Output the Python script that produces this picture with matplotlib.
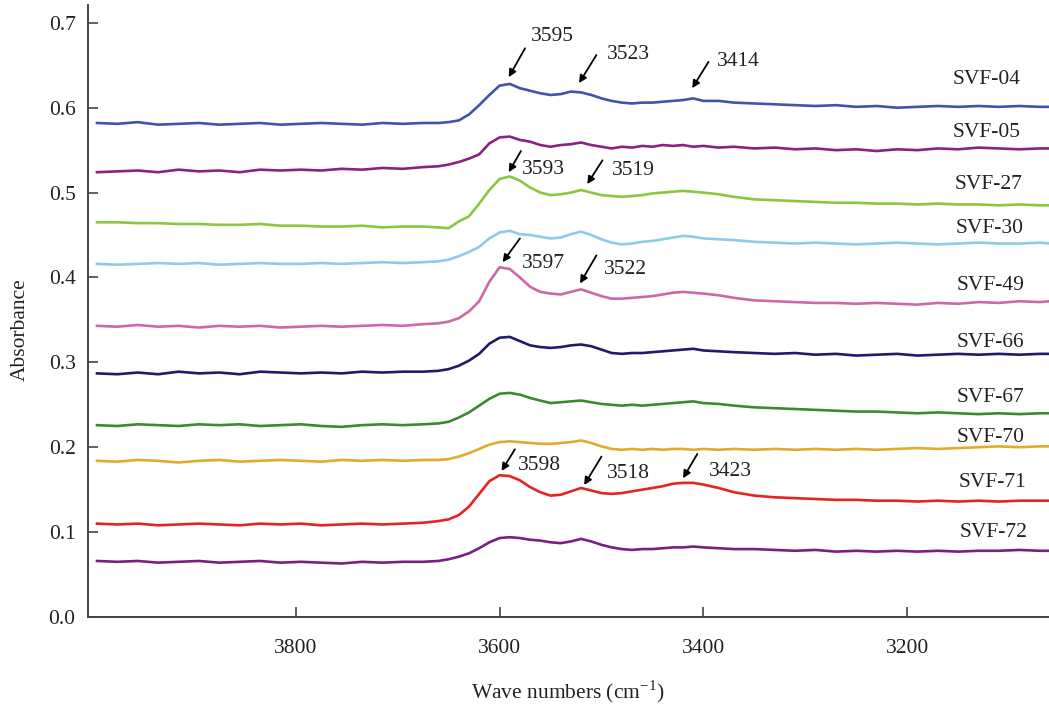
import matplotlib
matplotlib.use("Agg")
import matplotlib.pyplot as plt

# ---------------- data ----------------
wavenumber = [3995, 3975, 3955, 3935, 3915, 3895, 3875, 3855, 3835, 3815, 3795, 3775, 3755, 3735, 3715, 3695, 3675,
              3660, 3650, 3640, 3630, 3620, 3610, 3600, 3590, 3580, 3570, 3560, 3550, 3540, 3530, 3520, 3510, 3500,
              3490, 3480, 3470, 3460, 3450, 3440, 3430, 3420, 3410, 3400,
              3385, 3370,
              3350, 3330, 3310, 3290, 3270, 3250, 3230, 3210, 3190, 3170, 3150, 3130, 3110, 3090, 3070, 3060]

svf04 = [0.582, 0.581, 0.583, 0.580, 0.581, 0.582, 0.580, 0.581, 0.582, 0.580, 0.581, 0.582, 0.581, 0.580, 0.582, 0.581, 0.582,
         0.582, 0.583, 0.585, 0.592, 0.603, 0.615, 0.626, 0.628, 0.623, 0.620, 0.617, 0.615, 0.616, 0.619, 0.618, 0.615, 0.611,
         0.608, 0.606, 0.605, 0.606, 0.606, 0.607, 0.608, 0.609, 0.611, 0.608,
         0.608, 0.606,
         0.605, 0.604, 0.603, 0.602, 0.603, 0.601, 0.602, 0.600, 0.601, 0.602, 0.601, 0.602, 0.601, 0.602, 0.601, 0.601]

svf05 = [0.524, 0.525, 0.526, 0.524, 0.527, 0.525, 0.526, 0.524, 0.527, 0.526, 0.527, 0.526, 0.528, 0.527, 0.529, 0.528, 0.530,
         0.531, 0.533, 0.536, 0.540, 0.545, 0.558, 0.565, 0.566, 0.562, 0.560, 0.556, 0.554, 0.556, 0.557, 0.559, 0.556, 0.554,
         0.552, 0.554, 0.553, 0.555, 0.554, 0.556, 0.555, 0.556, 0.554, 0.555,
         0.553, 0.554,
         0.552, 0.553, 0.551, 0.552, 0.550, 0.551, 0.549, 0.551, 0.550, 0.552, 0.551, 0.553, 0.552, 0.551, 0.552, 0.552]

svf27 = [0.465, 0.465, 0.464, 0.464, 0.463, 0.463, 0.462, 0.462, 0.463, 0.461, 0.461, 0.460, 0.460, 0.461, 0.459, 0.460, 0.460,
         0.459, 0.458, 0.466, 0.472, 0.487, 0.503, 0.516, 0.519, 0.514, 0.506, 0.500, 0.497, 0.498, 0.500, 0.503, 0.500, 0.497,
         0.496, 0.495, 0.496, 0.497, 0.499, 0.500, 0.501, 0.502, 0.501, 0.500,
         0.498, 0.495,
         0.492, 0.491, 0.490, 0.489, 0.488, 0.488, 0.487, 0.487, 0.486, 0.487, 0.486, 0.486, 0.485, 0.486, 0.485, 0.485]

svf30 = [0.416, 0.415, 0.416, 0.417, 0.416, 0.417, 0.415, 0.416, 0.417, 0.416, 0.416, 0.417, 0.416, 0.417, 0.418, 0.417, 0.418,
         0.419, 0.421, 0.425, 0.430, 0.436, 0.446, 0.453, 0.455, 0.451, 0.450, 0.448, 0.446, 0.447, 0.451, 0.454, 0.450, 0.445,
         0.441, 0.439, 0.440, 0.442, 0.443, 0.445, 0.447, 0.449, 0.448, 0.446,
         0.445, 0.444,
         0.442, 0.441, 0.440, 0.441, 0.440, 0.439, 0.440, 0.441, 0.440, 0.439, 0.440, 0.441, 0.440, 0.440, 0.441, 0.440]

svf49 = [0.343, 0.342, 0.344, 0.342, 0.343, 0.341, 0.343, 0.342, 0.343, 0.341, 0.342, 0.343, 0.342, 0.343, 0.344, 0.343, 0.345,
         0.346, 0.348, 0.352, 0.360, 0.372, 0.395, 0.412, 0.410, 0.400, 0.389, 0.383, 0.381, 0.380, 0.383, 0.386, 0.382, 0.378,
         0.375, 0.375, 0.376, 0.377, 0.378, 0.380, 0.382, 0.383, 0.382, 0.381,
         0.379, 0.376,
         0.373, 0.372, 0.371, 0.370, 0.370, 0.369, 0.370, 0.369, 0.368, 0.370, 0.369, 0.371, 0.370, 0.372, 0.371, 0.372]

svf66 = [0.287, 0.286, 0.288, 0.286, 0.289, 0.287, 0.288, 0.286, 0.289, 0.288, 0.287, 0.288, 0.287, 0.289, 0.288, 0.289, 0.289,
         0.290, 0.292, 0.296, 0.302, 0.310, 0.322, 0.329, 0.330, 0.325, 0.320, 0.318, 0.317, 0.318, 0.320, 0.321, 0.319, 0.315,
         0.311, 0.310, 0.311, 0.311, 0.312, 0.313, 0.314, 0.315, 0.316, 0.314,
         0.313, 0.312,
         0.311, 0.310, 0.311, 0.309, 0.310, 0.308, 0.309, 0.310, 0.308, 0.309, 0.310, 0.309, 0.310, 0.309, 0.310, 0.310]

svf67 = [0.226, 0.225, 0.227, 0.226, 0.225, 0.227, 0.226, 0.227, 0.225, 0.226, 0.227, 0.225, 0.224, 0.226, 0.227, 0.226, 0.227,
         0.228, 0.230, 0.235, 0.241, 0.249, 0.257, 0.263, 0.264, 0.262, 0.258, 0.255, 0.252, 0.253, 0.254, 0.255, 0.253, 0.251,
         0.250, 0.249, 0.250, 0.249, 0.250, 0.251, 0.252, 0.253, 0.254, 0.252,
         0.251, 0.249,
         0.247, 0.246, 0.245, 0.244, 0.243, 0.242, 0.242, 0.241, 0.240, 0.241, 0.240, 0.239, 0.240, 0.239, 0.240, 0.240]

svf70 = [0.184, 0.183, 0.185, 0.184, 0.182, 0.184, 0.185, 0.183, 0.184, 0.185, 0.184, 0.183, 0.185, 0.184, 0.185, 0.184, 0.185,
         0.185, 0.186, 0.189, 0.193, 0.198, 0.203, 0.206, 0.207, 0.206, 0.205, 0.204, 0.204, 0.205, 0.206, 0.208, 0.205, 0.201,
         0.198, 0.197, 0.198, 0.197, 0.198, 0.197, 0.198, 0.198, 0.197, 0.198,
         0.197, 0.198,
         0.197, 0.198, 0.197, 0.198, 0.197, 0.198, 0.197, 0.198, 0.199, 0.198, 0.199, 0.200, 0.201, 0.200, 0.201, 0.201]

svf71 = [0.110, 0.109, 0.110, 0.108, 0.109, 0.110, 0.109, 0.108, 0.110, 0.109, 0.110, 0.108, 0.109, 0.110, 0.109, 0.110, 0.111,
         0.113, 0.115, 0.120, 0.130, 0.145, 0.160, 0.167, 0.166, 0.161, 0.153, 0.147, 0.143, 0.144, 0.148, 0.152, 0.149, 0.146,
         0.145, 0.146, 0.148, 0.150, 0.152, 0.154, 0.157, 0.158, 0.158, 0.156,
         0.152, 0.147,
         0.143, 0.141, 0.140, 0.139, 0.138, 0.138, 0.137, 0.137, 0.136, 0.137, 0.136, 0.137, 0.136, 0.137, 0.137, 0.137]

svf72 = [0.066, 0.065, 0.066, 0.064, 0.065, 0.066, 0.064, 0.065, 0.066, 0.064, 0.065, 0.064, 0.063, 0.065, 0.064, 0.065, 0.065,
         0.066, 0.068, 0.071, 0.075, 0.081, 0.088, 0.093, 0.094, 0.093, 0.091, 0.090, 0.088, 0.087, 0.089, 0.092, 0.089, 0.085,
         0.082, 0.080, 0.079, 0.080, 0.080, 0.081, 0.082, 0.082, 0.083, 0.082,
         0.081, 0.080,
         0.080, 0.079, 0.078, 0.079, 0.077, 0.078, 0.077, 0.078, 0.077, 0.078, 0.077, 0.078, 0.078, 0.079, 0.078, 0.078]

sample_names = ["SVF-04", "SVF-05", "SVF-27", "SVF-30", "SVF-49",
                "SVF-66", "SVF-67", "SVF-70", "SVF-71", "SVF-72"]
series = [svf04, svf05, svf27, svf30, svf49, svf66, svf67, svf70, svf71, svf72]

x_ticks = [3800, 3600, 3400, 3200]
y_ticks = [0.0, 0.1, 0.2, 0.3, 0.4, 0.5, 0.6, 0.7]

# peak annotation labels
peak_labels = ["3595", "3523", "3414", "3593", "3519", "3597", "3522", "3598", "3518", "3423"]

# ---------------- style / layout ----------------
colors = ["#4254a8", "#8a2282", "#8cc63f", "#8ecbe8", "#cc68a8",
          "#1f1b6e", "#3c8a30", "#e2ab2c", "#e42422", "#7a1f82"]
# label positions (x, y) in data coords
label_pos = [(3122, 0.633), (3122, 0.571), (3120, 0.509), (3119, 0.458), (3118, 0.391),
             (3118, 0.323), (3118, 0.259), (3118, 0.212), (3116, 0.159), (3115, 0.100)]
# annotation geometry: (text_x, text_y, tail_x, tail_y, head_x, head_y)
ann_geom = [
    (3569, 0.684, 3575, 0.670, 3591, 0.636),
    (3495, 0.663, 3505, 0.662, 3522, 0.629),
    (3387, 0.655, 3395, 0.654, 3411, 0.623),
    (3578, 0.527, 3579, 0.549, 3591, 0.524),
    (3490, 0.526, 3499, 0.538, 3514, 0.510),
    (3578, 0.417, 3580, 0.446, 3597, 0.418),
    (3498, 0.409, 3505, 0.426, 3521, 0.393),
    (3582, 0.178, 3585, 0.1975, 3598, 0.172),
    (3495, 0.169, 3500, 0.189, 3517, 0.1555),
    (3395, 0.171, 3406, 0.192, 3420, 0.1635),
]

plt.rcParams["font.family"] = ["Liberation Serif", "DejaVu Serif"]
fs = 15.5

fig = plt.figure(figsize=(10.49, 7.04), dpi=100)
ax = fig.add_axes([0.0839, 0.1236, 0.9161, 0.8693])

for vals, c in zip(series, colors):
    ax.plot(wavenumber, vals, color=c, lw=1.9, solid_joinstyle="round")

for name, (lx, ly) in zip(sample_names, label_pos):
    ax.text(lx, ly, name, ha="center", va="center", fontsize=fs, color="#222222")

for lab, (tx, ty, ax_, ay, hx, hy) in zip(peak_labels, ann_geom):
    ax.annotate("", xy=(hx, hy), xytext=(ax_, ay),
                arrowprops=dict(arrowstyle="-|>", color="black", lw=1.3,
                                mutation_scale=11, shrinkA=0, shrinkB=0))
    ax.text(tx, ty, lab, ha="left", va="center", fontsize=fs, color="#222222")

ax.set_xlim(4003.8, 3060.9)
ax.set_ylim(0.0, 0.721)
ax.set_xticks(x_ticks)
ax.set_yticks(y_ticks)
ax.set_yticklabels([f"{v:.1f}" for v in y_ticks])

for side in ["top", "right"]:
    ax.spines[side].set_visible(False)
for side in ["left", "bottom"]:
    ax.spines[side].set_color("#444444")
    ax.spines[side].set_linewidth(1.4)

ax.tick_params(axis="both", direction="in", length=7.5, width=1.2, color="#444444",
               labelsize=fs, labelcolor="#222222")
ax.tick_params(axis="x", pad=16)
ax.tick_params(axis="y", pad=9)

fig.text(20 / 1049, 1 - 330 / 704, "Absorbance", rotation=90, ha="center", va="center",
         fontsize=fs, color="#222222")
fig.text(568 / 1049, 1 - 692 / 704, r"Wave numbers (cm$^{\mathregular{-1}}$)", ha="center", va="center",
         fontsize=fs, color="#222222")

fig.savefig("out.png", dpi=100, facecolor="white")
